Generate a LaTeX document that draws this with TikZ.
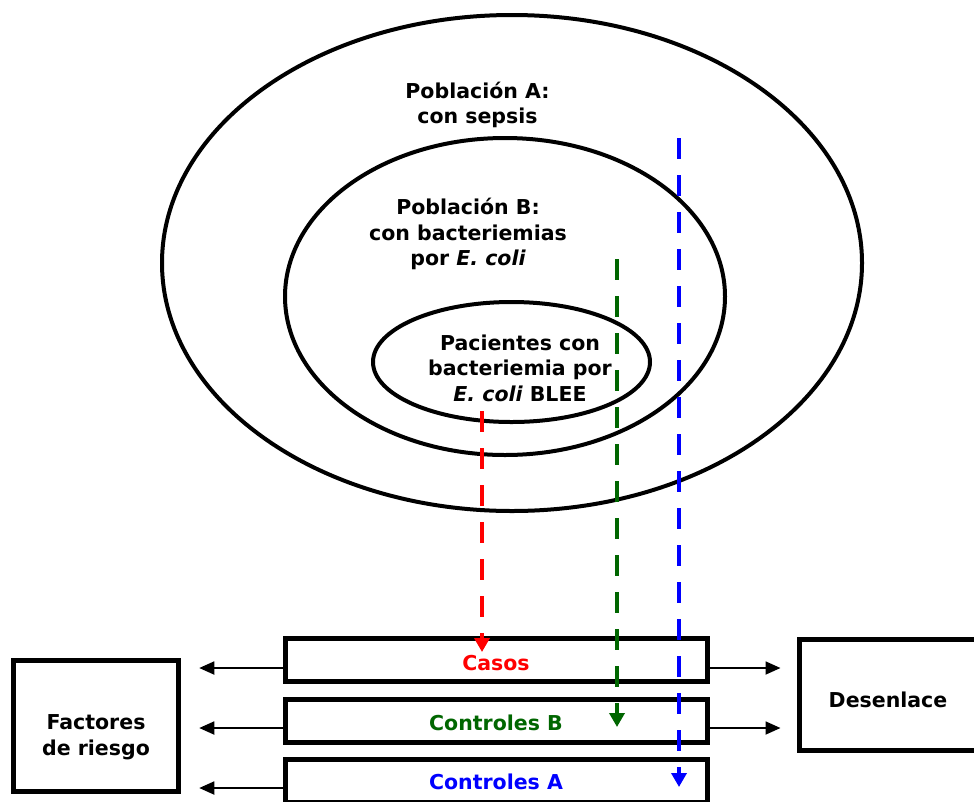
\documentclass[tikz,border=0pt]{standalone}
\usepackage{fontspec}
\setmainfont{DejaVu Sans}
\usetikzlibrary{shapes.geometric,arrows.meta,calc}
\definecolor{cred}{RGB}{255,0,0}
\definecolor{cgreen}{RGB}{0,102,0}
\definecolor{cblue}{RGB}{0,0,255}
\begin{document}
\begin{tikzpicture}[x=1pt,y=-1pt,
  txt/.style={font=\fontsize{20.5}{25.5}\selectfont\bfseries, align=center, inner sep=0pt},
  ell/.style={draw, ellipse, line width=4pt, inner sep=0pt},
  box/.style={draw, line width=5pt, inner sep=0pt, align=center,
    font=\fontsize{20.5}{26}\selectfont\bfseries},
  arr/.style={line width=1.8pt, -{Triangle[length=15pt,width=13pt]}},
  dsh/.style={line width=4.5pt, dash pattern=on 21pt off 16pt,
    -{Triangle[length=14pt,width=15pt]}}
]
\useasboundingbox (0,0) rectangle (974,801);
\fill[white] (0,0) rectangle (974,801);

% populations
\node[ell, minimum width=700pt, minimum height=496pt] (popA) at (512,263) {};
\node[ell, minimum width=440pt, minimum height=317pt] (popB) at (505,296.5) {};
\node[ell, minimum width=277pt, minimum height=120pt] (pac) at (511.5,362) {};

\node[txt] (tA) at (477.5,105) {Población A:\\con sepsis};
\node[txt] (tB) at (468,234) {Población B:\\con bacteriemias\\por {\itshape E. coli}};
\node[txt] (tP) at (520,368) {Pacientes con\\bacteriemia por\\{\itshape E. coli} BLEE};

% boxes
\node[box, minimum width=422pt, minimum height=43.5pt, text height=20pt, text depth=0pt, text=cred] (casos) at (496,660) {Casos};
\node[box, minimum width=422pt, minimum height=43pt, text height=18pt, text depth=0pt, text=cgreen] (ctrB) at (496,721) {Controles B};
\node[box, minimum width=422pt, minimum height=43pt, text height=18pt, text depth=0pt, text=cblue] (ctrA) at (496,780.5) {Controles A};
\node[box, minimum width=164.5pt, minimum height=131.5pt] (fr) at (96,726) {};
\node[txt] (frt) at (96,737) {Factores\\de riesgo};
\node[box, minimum width=177pt, minimum height=111.5pt, text height=25pt, text depth=0pt] (des) at (888,695) {Desenlace};

% arrows to factores de riesgo
\coordinate (l1) at ($(casos.west)+(0,8)$);
\coordinate (l2) at ($(ctrB.west)+(0,7)$);
\coordinate (l3) at ($(ctrA.west)+(0,7.5)$);
\draw[arr, shorten >=18.5pt] (l1) -- (l1 -| fr.east);
\draw[arr, shorten >=18.5pt] (l2) -- (l2 -| fr.east);
\draw[arr, shorten >=18.5pt] (l3) -- (l3 -| fr.east);

% arrows to desenlace
\coordinate (r1) at ($(casos.east)+(-4,8)$);
\coordinate (r2) at ($(ctrB.east)+(-4,7)$);
\draw[arr, shorten >=16.5pt] (r1) -- (r1 -| des.west);
\draw[arr, shorten >=16.5pt] (r2) -- (r2 -| des.west);

% sampling lines
\coordinate (rs) at (482,411);
\coordinate (re) at (482,652);
\coordinate (gs) at (617,259);
\coordinate (ge) at (617,727);
\coordinate (bs) at (679,138);
\coordinate (be) at (679,787);
\draw[dsh, cred] (rs) -- (re);
\draw[dsh, cgreen] (gs) -- (ge);
\draw[dsh, cblue] (bs) -- (be);
\end{tikzpicture}
\end{document}
